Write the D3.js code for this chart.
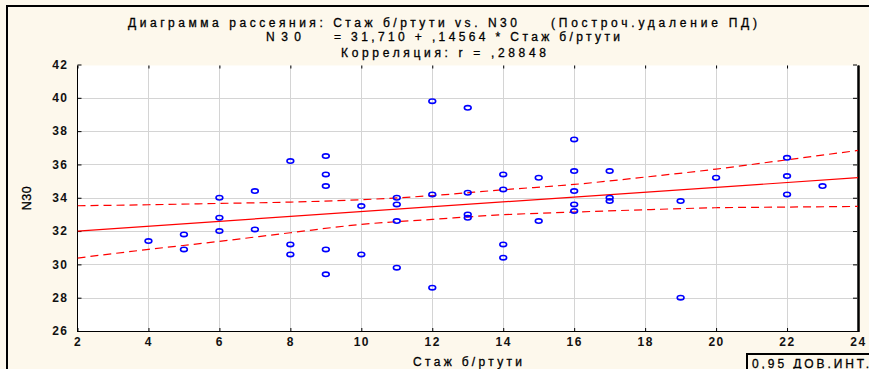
<!DOCTYPE html>
<html>
<head>
<meta charset="utf-8">
<script src="https://cdn.jsdelivr.net/npm/d3@7"></script>
<style>
  html, body { margin: 0; padding: 0; background: #fdf8ec; }
  svg { display: block; font-family: "Liberation Sans", Arial, sans-serif; }
</style>
</head>
<body>
<svg id="chart" width="869" height="369"></svg>
<script>
// ---- data ----
const staz = [4,5,5,6,6,6,7,7,8,8,8,9,9,9,9,9,10,10,11,11,11,11,12,12,12,13,13,13,13,14,14,14,14,15,15,16,16,16,16,16,17,17,17,19,19,20,22,22,22,23];
const n30  = [31.4,31.8,30.9,34.0,32.8,32.0,34.4,32.1,36.2,31.2,30.6,36.5,35.4,34.7,30.9,29.4,33.5,30.6,34.0,33.6,32.6,29.8,39.8,34.2,28.6,39.4,34.3,33.0,32.8,35.4,34.5,31.2,30.4,35.2,32.6,37.5,35.6,34.4,33.6,33.2,35.6,34.0,33.8,33.8,28.0,35.2,36.4,35.3,34.2,34.7];
const intercept = 31.710;
const slope = 0.14564;
const bandX     = [2,4,6,8,10,12,14,16,18,20,22,24];
const bandUpper = [33.52,33.58,33.66,33.74,33.88,34.13,34.48,34.80,35.24,35.72,36.28,36.84];
const bandLower = [30.38,30.90,31.38,31.90,32.40,32.70,32.98,33.14,33.28,33.40,33.44,33.48];
const xTicks = [2,4,6,8,10,12,14,16,18,20,22,24];
const yTicks = [26,28,30,32,34,36,38,40,42];
const titleLine1a = "Диаграмма рассеяния: Стаж б/ртути vs. N30";
const titleLine1b = "(Построч.удаление ПД)";
const titleLine2a = "N30";
const titleLine2b = "= 31,710 + ,14564 * Стаж б/ртути";
const titleLine3 = "Корреляция: r =  ,28848";
const xTitle = "Стаж б/ртути";
const yTitle = "N30";
const legendText = "0,95 ДОВ.ИНТ.";

// ---- layout ----
const svg = d3.select("#chart");
const L = 77.5, R = 858, T = 64.5, B = 331;
const x = d3.scaleLinear().domain([2, 24]).range([L, R]);
const y = d3.scaleLinear().domain([26, 42]).range([B, T]);

// window frame
svg.append("rect").attr("x", 0).attr("y", 0).attr("width", 869).attr("height", 369).attr("fill", "#fdf8ec");
svg.append("line").attr("x1", 6).attr("x2", 869).attr("y1", 6).attr("y2", 6).attr("stroke", "#000").attr("stroke-width", 2);
svg.append("line").attr("x1", 7).attr("x2", 7).attr("y1", 5).attr("y2", 369).attr("stroke", "#000").attr("stroke-width", 2);

// plot area
svg.append("rect").attr("x", L).attr("y", 65.5).attr("width", R - L).attr("height", B - 65.5).attr("fill", "#fff");

// grid
const grid = svg.append("g").attr("stroke", "#d4d4d4").attr("stroke-width", 1);
grid.selectAll(".gx").data(xTicks.slice(1, -1)).join("line")
  .attr("x1", d => Math.round(x(d)) + 0.5).attr("x2", d => Math.round(x(d)) + 0.5)
  .attr("y1", 65.5).attr("y2", B);
grid.selectAll(".gy").data(yTicks.slice(1, -1)).join("line")
  .attr("y1", d => Math.round(y(d)) + 0.5).attr("y2", d => Math.round(y(d)) + 0.5)
  .attr("x1", L).attr("x2", R);

// axes
const fontAxis = g => g.selectAll("text")
  .attr("font-size", "12px").attr("fill", "#111").attr("font-weight", "bold")
  .attr("letter-spacing", "1.5px").attr("font-family", "'Liberation Sans', Arial, sans-serif");

const ax = svg.append("g").attr("transform", `translate(0,${B})`)
  .call(d3.axisBottom(x).tickValues(xTicks).tickSize(-3).tickPadding(6).tickFormat(d3.format("d")));
ax.select(".domain").remove();
fontAxis(ax);

const ay = svg.append("g").attr("transform", `translate(${L},0)`)
  .call(d3.axisLeft(y).tickValues(yTicks).tickSize(-4).tickPadding(9).tickFormat(d3.format("d")));
ay.select(".domain").remove();
fontAxis(ay);

const at = svg.append("g").attr("transform", `translate(0,65.5)`)
  .call(d3.axisTop(x).tickValues(xTicks).tickSize(-3).tickFormat(""));
at.select(".domain").remove();

const ar = svg.append("g").attr("transform", `translate(${R - 1},0)`)
  .call(d3.axisRight(y).tickValues(yTicks).tickSize(-4).tickFormat(""));
ar.select(".domain").remove();

svg.selectAll(".tick line").attr("stroke", "#000");

// frame lines
svg.append("line").attr("x1", L).attr("x2", L).attr("y1", 65.5).attr("y2", B + 1).attr("stroke", "#000");
svg.append("line").attr("x1", L).attr("x2", R).attr("y1", B + 0.5).attr("y2", B + 0.5).attr("stroke", "#000");
svg.append("line").attr("x1", R + 0.5).attr("x2", R + 0.5).attr("y1", 65.5).attr("y2", B + 1).attr("stroke", "#000").attr("stroke-width", 2.5);

// regression & bands
svg.append("defs").append("clipPath").attr("id", "clip")
  .append("rect").attr("x", L).attr("y", 65.5).attr("width", R - L).attr("height", B - 65.5);
const lines = svg.append("g").attr("clip-path", "url(#clip)");
lines.append("line")
  .attr("x1", x(2)).attr("y1", y(intercept + slope * 2))
  .attr("x2", x(24)).attr("y2", y(intercept + slope * 24))
  .attr("stroke", "#ff0000").attr("stroke-width", 1.2);
const bandLine = arr => d3.line().x((d, i) => x(bandX[i])).y(d => y(d)).curve(d3.curveMonotoneX)(arr);
[bandUpper, bandLower].forEach(arr => {
  lines.append("path").attr("d", bandLine(arr)).attr("fill", "none")
    .attr("stroke", "#ff0000").attr("stroke-width", 1.2).attr("stroke-dasharray", "8,5");
});

// points
svg.append("g").selectAll("ellipse").data(staz).join("ellipse")
  .attr("cx", (d, i) => x(d)).attr("cy", (d, i) => y(n30[i]))
  .attr("rx", 3.4).attr("ry", 2.2)
  .attr("fill", "none").attr("stroke", "#0000ff").attr("stroke-width", 1.6);

// titles
const tfont = t => t.attr("font-size", "12px").attr("fill", "#000")
  .attr("stroke", "#000").attr("stroke-width", 0.3)
  .attr("lengthAdjust", "spacing");
tfont(svg.append("text").attr("x", 128).attr("y", 26.5).attr("textLength", 389).text(titleLine1a));
tfont(svg.append("text").attr("x", 551).attr("y", 26.5).attr("textLength", 206).text(titleLine1b));
tfont(svg.append("text").attr("x", 266).attr("y", 41).attr("textLength", 35).text(titleLine2a));
tfont(svg.append("text").attr("x", 334).attr("y", 41).attr("textLength", 286).text(titleLine2b));
tfont(svg.append("text").attr("x", 341).attr("y", 56.5).attr("textLength", 205).text(titleLine3));

// axis titles
tfont(svg.append("text").attr("x", 413).attr("y", 366).attr("textLength", 109).text(xTitle));
svg.append("text").attr("transform", "translate(31,198) rotate(-90)")
  .attr("text-anchor", "middle").attr("font-size", "12.5px").attr("fill", "#000")
  .attr("stroke", "#000").attr("stroke-width", 0.3)
  .attr("letter-spacing", "0.5px").text(yTitle);

// legend
svg.append("rect").attr("x", 747).attr("y", 354).attr("width", 140).attr("height", 30)
  .attr("fill", "#fdf8ec").attr("stroke", "#000").attr("stroke-width", 2);
tfont(svg.append("text").attr("x", 752).attr("y", 367.5).attr("textLength", 117).text(legendText));
</script>
</body>
</html>
